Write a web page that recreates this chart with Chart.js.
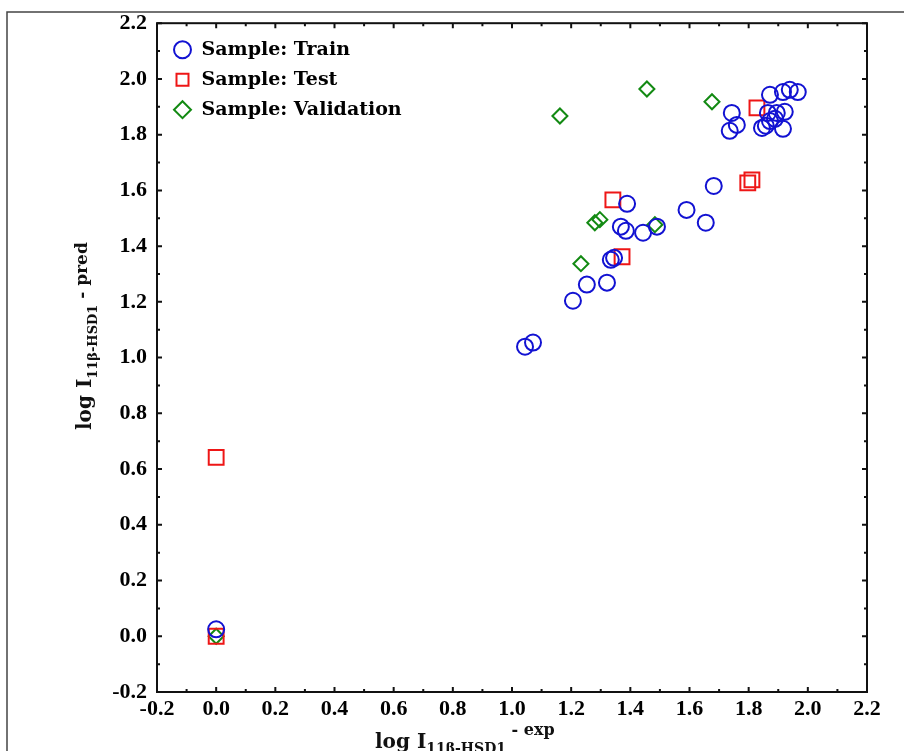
<!DOCTYPE html>
<html>
<head>
<meta charset="utf-8">
<script src="https://cdn.jsdelivr.net/npm/chart.js@4.4.1/dist/chart.umd.min.js"></script>
<style>
  html, body { margin: 0; padding: 0; background: #fff; }
  #wrap { width: 904px; height: 751px; }
</style>
</head>
<body>
<div id="wrap"><canvas id="scatterChart" width="904" height="751"></canvas></div>
<script>
var trainX = [0, 1.044, 1.071, 1.206, 1.253, 1.321, 1.334, 1.345, 1.368, 1.385, 1.389, 1.443, 1.49, 1.59, 1.655, 1.682,
  1.743, 1.736, 1.76, 1.872, 1.916, 1.939, 1.966, 1.865, 1.845, 1.895, 1.922, 1.916, 1.872, 1.889, 1.858];
var trainY = [0.025, 1.039, 1.054, 1.204, 1.262, 1.269, 1.351, 1.358, 1.47, 1.455, 1.552, 1.448, 1.47, 1.53, 1.484, 1.616,
  1.878, 1.814, 1.835, 1.943, 1.953, 1.961, 1.953, 1.878, 1.824, 1.878, 1.882, 1.821, 1.849, 1.857, 1.832];

var testX = [0, 0, 1.341, 1.372, 1.797, 1.811, 1.828];
var testY = [0.642, 0, 1.566, 1.362, 1.627, 1.638, 1.896];

var validX = [0, 1.162, 1.233, 1.28, 1.297, 1.456, 1.483, 1.676];
var validY = [0, 1.867, 1.337, 1.484, 1.495, 1.964, 1.477, 1.918];

var axisMin = -0.2;
var axisMax = 2.2;
var tickStep = 0.2;

function toPoints(xs, ys) {
  return xs.map(function(x, i) { return { x: x, y: ys[i] }; });
}

var serif = '"DejaVu Serif", serif';
var tickFont = { family: '"Liberation Serif", serif', size: 22, weight: 'bold' };

// draws a text made of runs with their own size / baseline shift
function drawRich(ctx, x, y, parts) {
  parts.forEach(function(p) {
    ctx.font = 'bold ' + p.size + 'px ' + serif;
    ctx.fillText(p.text, x, y + p.dy);
    x += ctx.measureText(p.text).width;
  });
}

var framePlugin = {
  id: 'frame',
  afterLayout: function(chart) {
    // put the in-plot legend a bit away from the corner
    if (chart.legend) {
      chart.legend.left = chart.chartArea.left + 5;
      chart.legend.top = chart.chartArea.top + 6;
    }
  },
  beforeDraw: function(chart) {
    var ctx = chart.ctx;
    ctx.save();
    ctx.strokeStyle = '#444';
    ctx.lineWidth = 1.5;
    ctx.beginPath();
    ctx.moveTo(7, 751);
    ctx.lineTo(7, 12);
    ctx.lineTo(904, 12);
    ctx.stroke();
    ctx.restore();
  },
  afterDraw: function(chart) {
    var ctx = chart.ctx;
    var a = chart.chartArea;
    var xs = chart.scales.x, ys = chart.scales.y;
    ctx.save();
    ctx.strokeStyle = '#111';
    ctx.lineWidth = 2;
    ctx.strokeRect(a.left, a.top, a.right - a.left, a.bottom - a.top);

    // inner ticks every 0.1, a bit longer on the labelled ones
    ctx.beginPath();
    for (var k = 0; k <= 24; k++) {
      var v = axisMin + k * 0.1;
      var len = (k % 2 === 0) ? 5 : 3;
      var px = xs.getPixelForValue(v);
      var py = ys.getPixelForValue(v);
      ctx.moveTo(px, a.bottom); ctx.lineTo(px, a.bottom - len);
      ctx.moveTo(px, a.top); ctx.lineTo(px, a.top + len);
      ctx.moveTo(a.left, py); ctx.lineTo(a.left + len, py);
      ctx.moveTo(a.right, py); ctx.lineTo(a.right - len, py);
    }
    ctx.stroke();

    // axis titles with subscript
    ctx.fillStyle = '#111';
    ctx.textBaseline = 'alphabetic';
    ctx.textAlign = 'left';
    drawRich(ctx, 375, 748, [
      { text: 'log I', size: 20, dy: 0 },
      { text: '11β-HSD1', size: 14, dy: 5 },
      { text: ' - exp', size: 16, dy: -13 }
    ]);
    ctx.translate(91, 430);
    ctx.rotate(-Math.PI / 2);
    drawRich(ctx, 0, 0, [
      { text: 'log I', size: 20, dy: 0 },
      { text: '11β-HSD1', size: 13, dy: 6 },
      { text: ' - pred', size: 17, dy: -4 }
    ]);
    ctx.restore();
  }
};

var ctx = document.getElementById('scatterChart').getContext('2d');
var chart = new Chart(ctx, {
  type: 'scatter',
  data: {
    datasets: [{
      label: 'Sample: Train',
      data: toPoints(trainX, trainY),
      pointStyle: 'circle',
      pointRadius: 8,
      borderWidth: 2,
      borderColor: '#1212d2',
      backgroundColor: 'rgba(0,0,0,0)'
    }, {
      label: 'Sample: Test',
      data: toPoints(testX, testY),
      pointStyle: 'rect',
      pointRadius: 10.5,
      borderWidth: 2,
      borderColor: '#ee1616',
      backgroundColor: 'rgba(0,0,0,0)'
    }, {
      label: 'Sample: Validation',
      data: toPoints(validX, validY),
      pointStyle: 'rectRot',
      pointRadius: 7.5,
      borderWidth: 2,
      borderColor: '#138a13',
      backgroundColor: 'rgba(0,0,0,0)'
    }]
  },
  options: {
    responsive: false,
    animation: false,
    devicePixelRatio: 1,
    layout: { padding: { left: 0, top: 22, right: 37, bottom: 0 } },
    plugins: {
      tooltip: { enabled: false },
      legend: {
        position: 'chartArea',
        align: 'start',
        labels: {
          usePointStyle: true,
          boxWidth: 19,
          boxHeight: 12,
          padding: 11,
          color: '#000',
          font: { family: serif, size: 19, weight: 'bold' }
        }
      }
    },
    scales: {
      x: {
        type: 'linear',
        min: axisMin,
        max: axisMax,
        grid: { display: false, drawTicks: false },
        border: { display: false },
        ticks: {
          stepSize: tickStep,
          padding: 4,
          color: '#000',
          font: tickFont,
          callback: function(v) { return Number(v).toFixed(1); }
        },
        afterFit: function(scale) { scale.height = 59; }
      },
      y: {
        type: 'linear',
        min: axisMin,
        max: axisMax,
        grid: { display: false, drawTicks: false },
        border: { display: false },
        ticks: {
          stepSize: tickStep,
          padding: 10,
          color: '#000',
          font: tickFont,
          callback: function(v) { return Number(v).toFixed(1); }
        },
        afterFit: function(scale) { scale.width = 157; }
      }
    }
  },
  plugins: [framePlugin]
});
</script>
</body>
</html>
